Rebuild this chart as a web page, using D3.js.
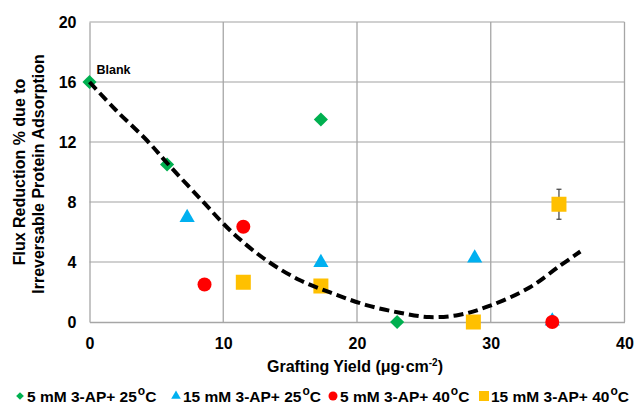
<!DOCTYPE html>
<html>
<head>
<meta charset="utf-8">
<script src="https://cdn.jsdelivr.net/npm/d3@7"></script>
<style>
  body { margin: 0; background: #fff; }
  text { font-family: "Liberation Sans", Arial, sans-serif; font-weight: bold; }
</style>
</head>
<body>
<script>
// data: [grafting yield, flux reduction]
var green25 = [[0, 16], [5.8, 10.5], [17.3, 13.5], [23.0, 0]];
var blue25 = [[7.3, 6.9], [17.3, 3.9], [28.8, 4.2], [34.6, 0]];
var red40 = [[8.6, 2.5], [11.5, 6.35], [34.6, 0]];
var yellow40 = [[11.5, 2.65], [17.3, 2.4], [28.7, 0], [35.1, 7.85]];
var yellowErr = [0, 0, 0, 1.0];

// dashed trend curve
var trend = [[0, 16], [2, 14.1], [4.3, 12.1], [5.8, 10.6], [8.25, 8.25], [10.7, 5.95],
  [13.2, 4.13], [15.7, 2.8], [18.2, 1.9], [20.7, 1.13], [23.2, 0.62], [25.4, 0.33],
  [27.6, 0.47], [29.9, 1.07], [32.9, 2.3], [35.1, 3.7], [36.7, 4.7]];

var xTicks = [0, 10, 20, 30, 40];
var yTicks = [0, 4, 8, 12, 16, 20];

var legendLabels = ["5 mM 3-AP+ 25", "15 mM 3-AP+ 25", "5 mM 3-AP+ 40", "15 mM 3-AP+ 40"];

var W = 635, H = 407;
var svg = d3.select("body").append("svg")
  .attr("width", W).attr("height", H);

var x = d3.scaleLinear().domain([0, 40]).range([89.5, 624.5]);
var y = d3.scaleLinear().domain([0, 20]).range([322, 22]);

// grid
svg.append("g").selectAll("line").data(yTicks.slice(1)).enter().append("line")
  .attr("x1", x(0)).attr("x2", x(40))
  .attr("y1", d => y(d)).attr("y2", d => y(d))
  .attr("stroke", "#c0c0c0").attr("stroke-width", 1.3);
svg.append("g").selectAll("line").data(xTicks.slice(1)).enter().append("line")
  .attr("y1", y(0)).attr("y2", y(20))
  .attr("x1", d => x(d)).attr("x2", d => x(d))
  .attr("stroke", "#a6a6a6").attr("stroke-width", 1.3);

// axes
var xAxis = svg.append("g")
  .attr("transform", "translate(0," + y(0) + ")")
  .call(d3.axisBottom(x).tickValues(xTicks).tickSize(0).tickPadding(16));
var yAxis = svg.append("g")
  .attr("transform", "translate(" + x(0) + ",0)")
  .call(d3.axisLeft(y).tickValues(yTicks).tickSize(0).tickPadding(13));
[xAxis, yAxis].forEach(function(a) {
  a.select(".domain").attr("stroke", "#a6a6a6").attr("stroke-width", 1.3);
  a.selectAll("text").attr("font-size", 16).attr("fill", "#000")
    .attr("font-family", "Liberation Sans, Arial, sans-serif").attr("font-weight", "bold");
});

// markers
function diamond(g, data, color) {
  g.selectAll(null).data(data).enter().append("path")
    .attr("d", d3.symbol(d3.symbolSquare, 100)())
    .attr("transform", d => "translate(" + x(d[0]) + "," + y(d[1]) + ") rotate(45)")
    .attr("fill", color);
}
var marks = svg.append("g");
diamond(marks, green25, "#00b050");
marks.selectAll(null).data(blue25).enter().append("path")
  .attr("d", d3.symbol(d3.symbolTriangle, 100)())
  .attr("transform", d => "translate(" + x(d[0]) + "," + (y(d[1]) - 1) + ")")
  .attr("fill", "#00b0f0");
marks.selectAll(null).data(red40).enter().append("circle")
  .attr("cx", d => x(d[0])).attr("cy", d => y(d[1])).attr("r", 7)
  .attr("fill", "#ff0000");

// error bar on the yellow series
var errData = yellow40.map((d, i) => [d[0], d[1], yellowErr[i]]).filter(d => d[2] > 0);
var eb = marks.selectAll(null).data(errData).enter().append("g").attr("stroke", "#404040");
eb.append("line").attr("x1", d => x(d[0])).attr("x2", d => x(d[0]))
  .attr("y1", d => y(d[1] + d[2])).attr("y2", d => y(d[1] - d[2])).attr("stroke-width", 1.2);
eb.append("line").attr("x1", d => x(d[0]) - 2.5).attr("x2", d => x(d[0]) + 2.5)
  .attr("y1", d => y(d[1] + d[2])).attr("y2", d => y(d[1] + d[2])).attr("stroke-width", 1.2);
eb.append("line").attr("x1", d => x(d[0]) - 2.5).attr("x2", d => x(d[0]) + 2.5)
  .attr("y1", d => y(d[1] - d[2])).attr("y2", d => y(d[1] - d[2])).attr("stroke-width", 1.2);

marks.selectAll(null).data(yellow40).enter().append("rect")
  .attr("x", d => x(d[0]) - 7.5).attr("y", d => y(d[1]) - 7.5)
  .attr("width", 15).attr("height", 15)
  .attr("fill", "#ffc000");

// trend line
svg.append("path")
  .datum(trend)
  .attr("fill", "none")
  .attr("stroke", "#000")
  .attr("stroke-width", 4)
  .attr("stroke-dasharray", "10,5")
  .attr("d", d3.line().curve(d3.curveCatmullRom)
    .x(d => x(d[0])).y(d => y(d[1])));

svg.append("text").attr("x", x(0) + 7).attr("y", y(16) - 8)
  .attr("font-size", 12.5).text("Blank");

// axis titles
svg.append("text").attr("x", 355).attr("y", 372).attr("text-anchor", "middle")
  .attr("font-size", 16)
  .html("Grafting Yield (μg·cm<tspan dy='-6' font-size='10'>-2</tspan><tspan dy='6'>)</tspan>");

var yt = svg.append("text").attr("text-anchor", "middle")
  .attr("transform", "translate(0,172) rotate(-90)").attr("font-size", 16);
yt.append("tspan").attr("x", 0).attr("y", 25).text("Flux Reduction % due to");
yt.append("tspan").attr("x", -2).attr("y", 44).text("Irreversable Protein Adsorption");

// legend
var legX = [20, 176, 333, 484];
var legColors = ["#00b050", "#00b0f0", "#ff0000", "#ffc000"];
var leg = svg.append("g").selectAll("g").data(legendLabels).enter().append("g")
  .attr("transform", (d, i) => "translate(" + legX[i] + ",396)");
leg.each(function(d, i) {
  var g = d3.select(this);
  if (i === 0) g.append("path").attr("d", d3.symbol(d3.symbolSquare, 30)()).attr("transform", "rotate(45)").attr("fill", legColors[i]);
  if (i === 1) g.append("path").attr("d", d3.symbol(d3.symbolTriangle, 40)()).attr("fill", legColors[i]);
  if (i === 2) g.append("circle").attr("r", 4.5).attr("fill", legColors[i]);
  if (i === 3) g.append("rect").attr("x", -5).attr("y", -5).attr("width", 10).attr("height", 10).attr("fill", legColors[i]);
  var t = g.append("text").attr("x", 7).attr("y", 6).attr("font-size", 15.5);
  t.append("tspan").text(d);
  t.append("tspan").attr("dx", 1).attr("dy", -7).attr("font-size", 12).text("o");
  t.append("tspan").attr("dy", 7).text("C");
});
</script>
</body>
</html>
